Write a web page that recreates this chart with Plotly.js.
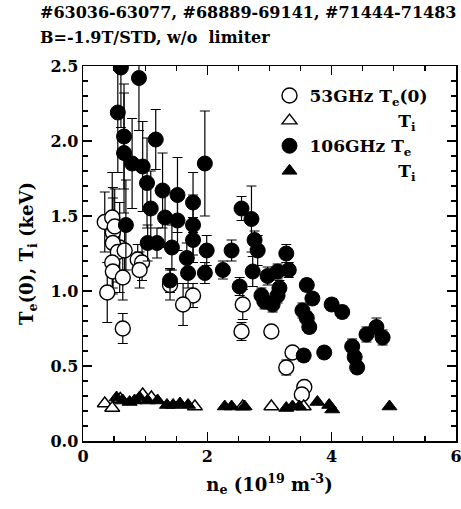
<!DOCTYPE html>
<html>
<head>
<meta charset="utf-8">
<script src="https://cdn.plot.ly/plotly-3.0.1.min.js"></script>
<style>html,body{margin:0;padding:0;background:#fff;}#chart{width:461px;height:509px;}</style>
</head>
<body>
<div id="chart"></div>
<script>
// 53GHz Te(0) (open circles)
var ne53Te = [0.35,0.47,0.48,0.51,0.59,0.48,0.56,0.67,0.47,0.48,0.64,0.39,0.64,0.88,0.95,0.91,1.40,1.77,1.61,2.57,2.55,3.03,3.37,3.27,3.56,3.52];
var te53 =   [1.46,1.49,1.39,1.43,1.29,1.32,1.26,1.27,1.19,1.13,1.09,0.99,0.75,1.21,1.19,1.14,1.04,0.97,0.91,0.91,0.73,0.73,0.59,0.49,0.36,0.31];
var te53Err =[0.20,0.30,0.30,0.25,0.30,0.30,0.20,0.20,0.20,0.15,0.15,0.20,0.10,0.10,0.12,0.12,0.10,0.08,0.14,0.10,0.06,0.03,0.02,0.05,0.02,0.02];

// 53GHz Ti (open triangles)
var ne53Ti = [0.35,0.47,0.60,0.96,1.10,1.80,2.57,3.03,3.55];
var ti53 =   [0.25,0.22,0.28,0.31,0.29,0.23,0.23,0.23,0.23];

// 106GHz Te (filled circles)
var ne106Te = [0.61,0.90,0.56,0.66,0.66,0.79,0.96,1.17,1.03,1.96,1.28,1.52,1.77,1.09,1.32,1.52,1.77,0.69,2.55,2.71,2.76,2.81,1.04,1.19,1.43,1.77,1.99,2.39,1.67,1.69,1.96,2.25,2.73,1.40,2.52,2.97,3.13,3.27,3.31,3.16,3.13,2.87,3.05,2.92,3.60,3.69,4.00,4.17,3.53,3.60,3.64,3.55,3.88,4.33,4.37,4.41,4.56,4.72,4.82];
var te106 =   [2.49,2.42,2.19,2.03,1.92,1.85,1.83,2.01,1.72,1.85,1.67,1.64,1.59,1.55,1.49,1.47,1.44,1.44,1.55,1.48,1.34,1.27,1.32,1.32,1.29,1.34,1.27,1.27,1.22,1.12,1.12,1.14,1.13,1.07,1.03,1.10,1.13,1.25,1.14,1.02,0.97,0.97,0.91,0.93,1.04,0.95,0.91,0.86,0.87,0.82,0.76,0.57,0.59,0.63,0.56,0.49,0.71,0.76,0.69];
var te106Err =[0.40,0.35,0.40,0.35,0.40,0.30,0.30,0.20,0.30,0.35,0.25,0.25,0.20,0.25,0.20,0.20,0.20,0.30,0.08,0.22,0.06,0.10,0.12,0.10,0.15,0.15,0.10,0.07,0.10,0.10,0.07,0.06,0.10,0.08,0.06,0.06,0.05,0.06,0.05,0.05,0.05,0.05,0.05,0.05,0.04,0.04,0.04,0.04,0.05,0.04,0.04,0.04,0.04,0.05,0.04,0.04,0.05,0.06,0.05];

// 106GHz Ti (filled triangles)
var ne106Ti = [0.54,0.64,0.75,0.83,0.91,1.04,1.20,1.35,1.45,1.56,1.69,2.28,2.39,2.60,3.27,3.37,3.48,3.77,3.96,4.01,4.93];
var ti106 =   [0.29,0.27,0.26,0.27,0.29,0.27,0.27,0.24,0.24,0.25,0.24,0.23,0.23,0.23,0.22,0.23,0.23,0.26,0.24,0.21,0.23];

var titleLines = ["#63036-63077, #68889-69141, #71444-71483", "B=-1.9T/STD, w/o\u00A0\u00A0limiter"];
var legendNames = ["53GHz T<sub>e</sub>(0)", "T<sub>i</sub>", "106GHz T<sub>e</sub>", "T<sub>i</sub>"];

var FONT = "DejaVu Serif";
var pad = "\u00A0".repeat(15);
var errStyle = {type:'data', visible:true, color:'#000', thickness:1.2, width:5};

var traces = [
  {x: ne53Te, y: te53, name: legendNames[0], type:'scatter', mode:'markers',
   marker:{symbol:'circle', size:15, color:'#fff', line:{color:'#000', width:1.4}},
   error_y: Object.assign({array: te53Err}, errStyle)},
  {x: ne53Ti, y: ti53, name: pad + legendNames[1], type:'scatter', mode:'markers',
   marker:{symbol:'triangle-up', size:13, color:'#fff', line:{color:'#000', width:1.4}}},
  {x: ne106Te, y: te106, name: legendNames[2], type:'scatter', mode:'markers',
   marker:{symbol:'circle', size:15, color:'#000', line:{color:'#000', width:1}},
   error_y: Object.assign({array: te106Err}, errStyle)},
  {x: ne106Ti, y: ti106, name: pad + legendNames[3], type:'scatter', mode:'markers',
   marker:{symbol:'triangle-up', size:13, color:'#000', line:{color:'#000', width:1}}}
];

var titleFont = {family:FONT, size:16, color:'#000', weight:'bold'};

var layout = {
  width:461, height:509,
  margin:{l:83, r:5, t:66, b:68},
  paper_bgcolor:'#fff', plot_bgcolor:'#fff',
  font:{family:FONT, color:'#000', size:16, weight:'bold'},
  showlegend:true,
  legend:{x:0.5, y:0.968, xanchor:'left', yanchor:'top', bgcolor:'rgba(0,0,0,0)',
          font:{family:FONT, size:17, color:'#000', weight:'bold'}, tracegroupgap:0, itemwidth:30},
  annotations:[
    {text: titleLines[0], xref:'paper', yref:'paper', x:-0.12, y:1.144, xanchor:'left', yanchor:'middle',
     showarrow:false, font:titleFont},
    {text: titleLines[1], xref:'paper', yref:'paper', x:-0.12, y:1.075, xanchor:'left', yanchor:'middle',
     showarrow:false, font:titleFont}
  ],
  xaxis:{range:[0,6], dtick:2, tick0:0, ticks:'inside', ticklen:9, tickwidth:1.5, tickcolor:'#000',
         showline:true, linecolor:'#000', linewidth:1.5, mirror:'ticks', showgrid:false, zeroline:false,
         ticklabeloverflow:'allow',
         tickformat:'d', tickfont:{family:FONT, size:16, color:'#000', weight:'bold'},
         minor:{dtick:0.5, ticks:'inside', ticklen:5, tickwidth:1.2, tickcolor:'#000', showgrid:false},
         title:{text:'n<sub>e</sub> (10<sup>19</sup> m<sup>-3</sup>)', standoff:13,
                font:{family:FONT, size:18, color:'#000', weight:'bold'}}},
  yaxis:{range:[0,2.5], dtick:0.5, tick0:0, ticks:'inside', ticklen:9, tickwidth:1.5, tickcolor:'#000',
         showline:true, linecolor:'#000', linewidth:1.5, mirror:'ticks', showgrid:false, zeroline:false,
         tickformat:'.1f', tickfont:{family:FONT, size:16, color:'#000', weight:'bold'},
         minor:{dtick:0.1, ticks:'inside', ticklen:5, tickwidth:1.2, tickcolor:'#000', showgrid:false},
         title:{text:'T<sub>e</sub>(0), T<sub>i</sub> (keV)', standoff:12,
                font:{family:FONT, size:18, color:'#000', weight:'bold'}}}
};

Plotly.newPlot('chart', traces, layout, {displayModeBar:false, staticPlot:true});
</script>
</body>
</html>
